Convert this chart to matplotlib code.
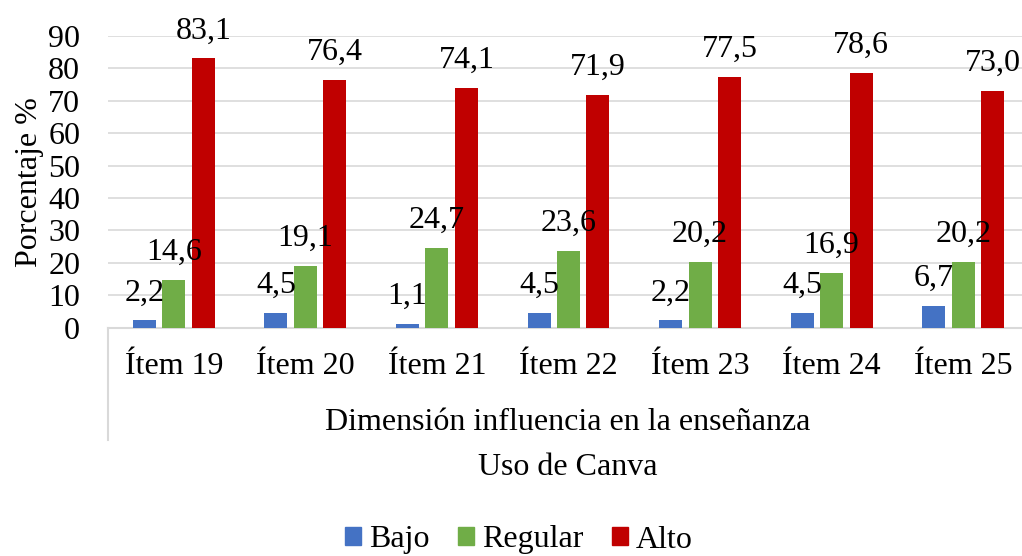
import matplotlib
matplotlib.use("Agg")
import matplotlib.pyplot as plt
import numpy as np
from matplotlib.patches import Patch

# Chart data
items = ["Ítem 19", "Ítem 20", "Ítem 21", "Ítem 22", "Ítem 23", "Ítem 24", "Ítem 25"]
bajo = [2.2, 4.5, 1.1, 4.5, 2.2, 4.5, 6.7]
regular = [14.6, 19.1, 24.7, 23.6, 20.2, 16.9, 20.2]
alto = [83.1, 76.4, 74.1, 71.9, 77.5, 78.6, 73.0]
series_names = ["Bajo", "Regular", "Alto"]
colors = ["#4472C4", "#70AD47", "#C00000"]
yticks = list(range(0, 100, 10))

plt.rcParams['font.family'] = ['Liberation Serif', 'DejaVu Serif']
FS = 23

W, H = 1022, 556
fig = plt.figure(figsize=(W / 100, H / 100), dpi=100)

# plot area in pixels: left 108, right 1029 (runs past the edge), y=0 at 327.6, y=90 at 36
left, right, y0, y90 = 108, 1029, 327.6, 36
ax = fig.add_axes([left / W, (H - y0) / H, (right - left) / W, (y0 - y90) / H])

x = np.arange(len(items))
bw = 0.175
step = 0.224
for i, (vals, name, col) in enumerate(zip([bajo, regular, alto], series_names, colors)):
    pos = x + (i - 1) * step
    ax.bar(pos, vals, width=bw, color=col, zorder=3)
    for px, v in zip(pos, vals):
        ax.annotate(f"{v:.1f}".replace(".", ","), (px, v), xytext=(0, 14.4),
                    textcoords="offset points", ha="center", va="baseline",
                    fontsize=FS, color="black", annotation_clip=False, zorder=4)

ax.set_xlim(-0.5, len(items) - 0.5)
ax.set_ylim(0, 90)
ax.set_yticks(yticks)
ax.set_xticks(x)
ax.set_xticklabels(items)
ax.tick_params(axis="y", length=0, pad=20, labelsize=FS)
ax.tick_params(axis="x", length=0, pad=33.4, labelsize=FS)
plt.setp(ax.get_xticklabels(), va="baseline")

ax.yaxis.grid(True, color="#d9d9d9", lw=1.2, zorder=0)
ax.set_axisbelow(True)
for s in ["top", "right", "left"]:
    ax.spines[s].set_visible(False)
ax.spines["bottom"].set_color("#d9d9d9")
ax.spines["bottom"].set_linewidth(1.5)

# left divider of the multi-level category axis
ax.plot([0, 0], [0, -(440 - y0) / (y0 - y90)], transform=ax.transAxes,
        color="#d9d9d9", lw=1.5, clip_on=False)

# axis titles
fig.text(30 / W, 1 - 182 / H, "Porcentaje %", rotation=90, ha="center", va="center", fontsize=FS)
fig.text(568 / W, 1 - 430 / H, "Dimensión influencia en la enseñanza", ha="center",
         va="baseline", fontsize=FS)
fig.text(568 / W, 1 - 475 / H, "Uso de Canva", ha="center", va="baseline", fontsize=FS)

handles = [Patch(color=c, label=n) for c, n in zip(colors, series_names)]
fig.legend(handles=handles, loc="center", bbox_to_anchor=(519 / W, 1 - 540 / H), ncol=3,
           frameon=False, fontsize=FS, handlelength=0.5, handleheight=0.5,
           handletextpad=0.25, columnspacing=0.9)

fig.savefig("out.png", dpi=100)
